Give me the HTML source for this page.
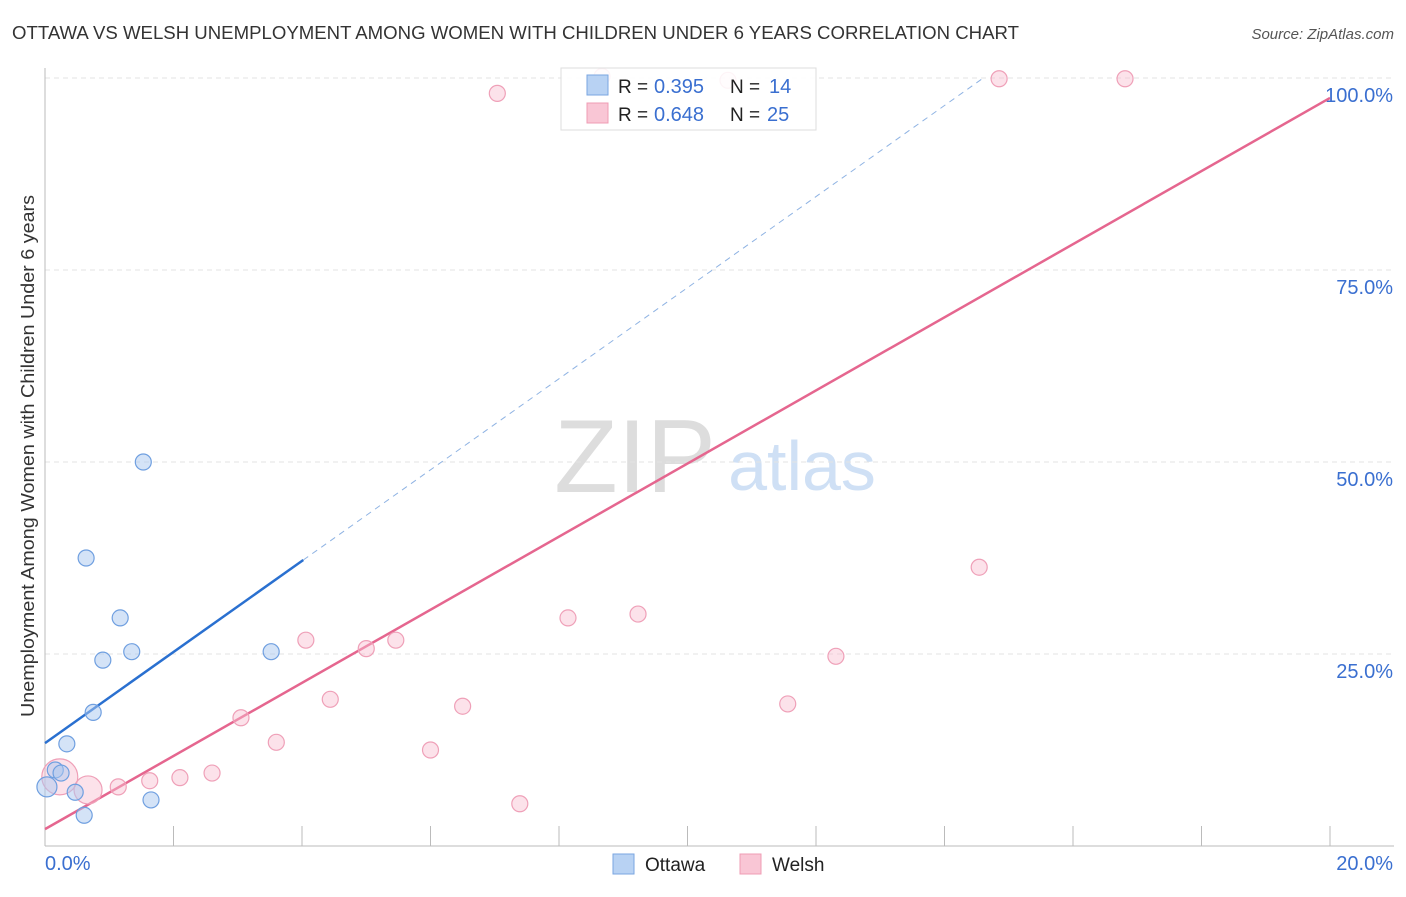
<!DOCTYPE html>
<html><head><meta charset="utf-8"><style>
body{margin:0;background:#fff;font-family:"Liberation Sans",sans-serif}
svg text{font-family:"Liberation Sans",sans-serif}
</style></head><body>
<svg width="1406" height="892" xmlns="http://www.w3.org/2000/svg">
<text x="12" y="39" font-size="18" fill="#333" textLength="1007" lengthAdjust="spacingAndGlyphs">OTTAWA VS WELSH UNEMPLOYMENT AMONG WOMEN WITH CHILDREN UNDER 6 YEARS CORRELATION CHART</text>
<text x="1394" y="39" font-size="15" fill="#555" font-style="italic" text-anchor="end">Source: ZipAtlas.com</text>
<g><text x="635" y="492" font-size="104" fill="#ddd" font-family="Liberation Serif" text-anchor="middle">ZIP</text><text x="802" y="490" font-size="70" fill="#cfe0f5" text-anchor="middle">atlas</text></g>
<g id="grid"></g><g id="axes"></g><g id="lines"></g><g id="pts"></g>
<text transform="translate(34,456) rotate(-90)" font-size="18" fill="#333" text-anchor="middle" textLength="522" lengthAdjust="spacingAndGlyphs">Unemployment Among Women with Children Under 6 years</text>
<g>
<rect x="561" y="68" width="255" height="62" fill="rgba(255,255,255,0.88)" stroke="#ddd"/>
<rect x="587" y="75" width="21" height="20" fill="#b8d2f3" stroke="#7aa6e0"/>
<rect x="587" y="103" width="21" height="20" fill="#f9c6d5" stroke="#ef9cb4"/>
<text x="618" y="93" font-size="19" fill="#222">R =</text><text x="654" y="93" font-size="20" fill="#3a6fd0">0.395</text>
<text x="730" y="93" font-size="19" fill="#222">N =</text><text x="769" y="93" font-size="20" fill="#3a6fd0">14</text>
<text x="618" y="121" font-size="19" fill="#222">R =</text><text x="654" y="121" font-size="20" fill="#3a6fd0">0.648</text>
<text x="730" y="121" font-size="19" fill="#222">N =</text><text x="767" y="121" font-size="20" fill="#3a6fd0">25</text>
</g>
<g>
<rect x="613" y="854" width="21" height="20" fill="#b8d2f3" stroke="#7aa6e0"/><text x="645" y="871" font-size="19" fill="#222">Ottawa</text>
<rect x="740" y="854" width="21" height="20" fill="#f9c6d5" stroke="#ef9cb4"/><text x="772" y="871" font-size="19" fill="#222">Welsh</text>
</g>
</svg>
<script>
const ottawaX=[0.03,0.16,0.25,0.47,0.61,0.34,0.75,0.64,0.9,1.17,1.35,1.53,1.65,3.52];
const ottawaY=[7.7,9.9,9.5,7.0,4.0,13.3,17.4,37.5,24.2,29.7,25.3,50.0,6.0,25.3];
const ottawaR=[10,8,8,8,8,8,8,8,8,8,8,8,8,8];
const welshX=[0.23,0.67,1.14,1.63,2.1,2.6,3.05,3.6,4.06,4.44,5.0,5.46,6.0,6.5,7.04,7.39,8.14,9.23,10.63,11.56,12.31,14.54,14.85,16.81,8.67];
const welshY=[9.0,7.3,7.7,8.5,8.9,9.5,16.7,13.5,26.8,19.1,25.7,26.8,12.5,18.2,98.0,5.5,29.7,30.2,99.7,18.5,24.7,36.3,99.9,99.9,100.2];
const welshR=[18,14,8,8,8,8,8,8,8,8,8,8,8,8,8,8,8,8,8,8,8,8,8,8,8];
const ottawaFit=[13.4,5.93];
const welshFit=[2.2,4.76];
const yTicks=[25,50,75,100];
const xTickLabels=["0.0%","20.0%"];
const NS="http://www.w3.org/2000/svg";
const X=v=>45+v*64.25, Y=v=>846-v*7.68;
function mk(t,a,p){const e=document.createElementNS(NS,t);for(const k in a)e.setAttribute(k,a[k]);document.getElementById(p).appendChild(e);return e;}
yTicks.forEach(t=>{
 const l=mk('line',{x1:45,x2:1394,y1:Y(t),y2:Y(t),stroke:'#e3e3e3','stroke-dasharray':'5,4'},'grid');
 
 
 const tx=mk('text',{x:1393,y:Y(t)+24,'font-size':20,fill:'#3a6fd0','text-anchor':'end'},'grid');tx.textContent=t.toFixed(1)+'%';
 
 
});
mk('line',{x1:45,x2:45,y1:68,y2:846,stroke:'#bbb'},'axes');
mk('line',{x1:45,x2:1394,y1:846,y2:846,stroke:'#bbb'},'axes');
for(let i=1;i<=10;i++){const t=mk('line',{x1:X(i*2),x2:X(i*2),y1:826,y2:846,stroke:'#bbb'},'axes');
 
 }
const a=mk('text',{x:45,y:870,'font-size':20,fill:'#3a6fd0'},'axes');a.textContent=xTickLabels[0];


const b=mk('text',{x:1393,y:870,'font-size':20,fill:'#3a6fd0','text-anchor':'end'},'axes');b.textContent=xTickLabels[1];


function pts(xs,ys,rs,fill,st,nm){xs.forEach((x,i)=>{const c=mk('circle',{cx:X(x),cy:Y(ys[i]),r:rs[i],fill:fill,stroke:st,'stroke-width':1.2},'pts');
 
 });}
pts(welshX,welshY,welshR,'rgba(248,190,208,0.45)','#efa0b8','welsh-point');
pts(ottawaX,ottawaY,ottawaR,'rgba(170,200,240,0.5)','#6f9fe0','ottawa-point');
const ob=ottawaFit, wb=welshFit, xe=(100-ob[0])/ob[1];
const l1=mk('line',{x1:X(0),y1:Y(ob[0]),x2:X(4.02),y2:Y(ob[0]+ob[1]*4.02),stroke:'#2a70d0','stroke-width':2.5},'lines');


const l2=mk('line',{x1:X(4.02),y1:Y(ob[0]+ob[1]*4.02),x2:X(xe),y2:Y(100),stroke:'#8fb3e3','stroke-width':1,'stroke-dasharray':'6,5'},'lines');


const l3=mk('line',{x1:X(0),y1:Y(wb[0]),x2:X(20),y2:Y(wb[0]+wb[1]*20),stroke:'#e5668f','stroke-width':2.5},'lines');


</script>
</body></html>
